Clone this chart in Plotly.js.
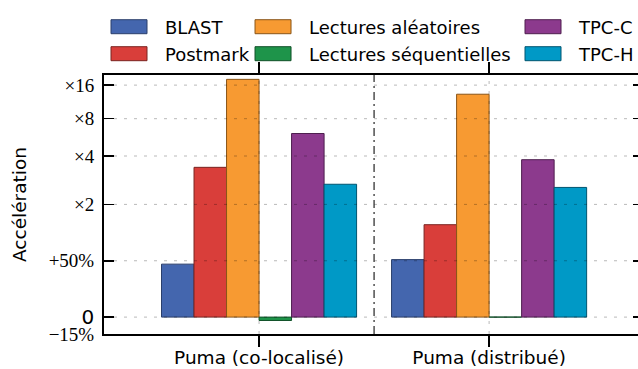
<!DOCTYPE html>
<html>
<head>
<meta charset="utf-8">
<script src="https://cdn.plot.ly/plotly-3.0.1.min.js"></script>
<style>
html,body{margin:0;padding:0;overflow:hidden;background:#fff;}
#chart{width:645px;height:369px;}
#chart .legendpoints path{d:path('M18,7H-18V-7H18Z');}
</style>
</head>
<body>
<div id="chart"></div>
<script>
// ---- data ----
const categories = ['Puma (co-localisé)', 'Puma (distribué)'];
const seriesNames = ['BLAST', 'Postmark', 'Lectures aléatoires', 'Lectures séquentielles', 'TPC-C', 'TPC-H'];
const blast = [1.47, 1.51];
const postmark = [3.32, 1.82];
const lecturesAleatoires = [18.1, 13.2];
const lecturesSequentielles = [0.97, 1.0];
const tpcc = [6.0, 3.76];
const tpch = [2.58, 2.47];
const tickValues = [0.85, 1, 1.5, 2, 4, 8, 16];
const tickLabels = ['\u221215%', '<span style="font-family:DejaVu Sans;font-size:20px">0</span>', '+50%', '\u00d72', '\u00d74', '\u00d78', '\u00d716'];

// ---- styling ----
const fillColors = ['#4466ae', '#d93e3a', '#f79a32', '#1e944a', '#8c3a8d', '#0099c6'];
const edgeColors = ['#2b3f6b', '#7a2420', '#8a5518', '#105028', '#4e1f4f', '#005570'];
const swatchColors = ['#3366cc', '#dc3912', '#ff9900', '#109618', '#990099', '#0099c6'];
const legendIds = ['legend', 'legend2', 'legend3', 'legend4', 'legend5', 'legend6'];
const legendX = [-0.0204, -0.0204, 0.2468, 0.2468, 0.7477, 0.7477];
const legendY = [1.1853, 1.0811, 1.1853, 1.0811, 1.1853, 1.0811];

// symmetric-log (linthresh 1, base 10) transform of the speed-up factor
function symlog(v) {
  const s = v - 1, a = Math.abs(s), L = 1 / (1 - 1 / 10);
  return a <= 1 ? s * L : Math.sign(s) * (L + Math.log10(a));
}

const allSeries = [blast, postmark, lecturesAleatoires, lecturesSequentielles, tpcc, tpch];
const traces = allSeries.map((vals, i) => ({
  type: 'bar',
  name: seriesNames[i],
  x: categories,
  y: vals.map(symlog),
  customdata: vals,
  marker: {color: fillColors[i], line: {color: edgeColors[i], width: 1}},
  legend: legendIds[i],
  hovertemplate: '%{customdata}<extra>' + seriesNames[i] + '</extra>'
}));

const yMin = symlog(0.85);
const yMax = 2.387;

const shapes = [];
tickValues.slice(1).forEach(v => {
  shapes.push({type: 'line', xref: 'paper', x0: 0, x1: 1, yref: 'y', y0: symlog(v), y1: symlog(v),
    line: {color: 'rgba(0,0,0,0.28)', width: 1, dash: '3px,7px'}, layer: 'above'});
});
categories.forEach(c => {
  shapes.push({type: 'line', xref: 'x', x0: c, x1: c, yref: 'paper', y0: 0, y1: 1,
    line: {color: 'rgba(0,0,0,0.28)', width: 1, dash: '3px,7px'}, layer: 'above'});
});
shapes.push({type: 'line', xref: 'x', x0: 0.5, x1: 0.5, yref: 'paper', y0: 0, y1: 1,
  line: {color: '#333', width: 1.3, dash: '8px,4px,2px,4px'}, layer: 'above'});

const legendFont = {family: 'DejaVu Sans', size: 18, color: '#000'};
const layout = {
  width: 645, height: 369,
  margin: {l: 104, r: 2, t: 75, b: 35},
  paper_bgcolor: '#fff', plot_bgcolor: '#fff',
  barmode: 'group', bargap: 0.152, bargroupgap: 0,
  showlegend: true,
  xaxis: {
    type: 'category', range: [-0.674, 1.669],
    showline: true, linecolor: '#000', linewidth: 2, mirror: 'ticks',
    ticks: 'outside', ticklen: 11, tickwidth: 1.5, tickcolor: '#000',
    showgrid: false, zeroline: false,
    ticklabelstandoff: -5,
    tickfont: {family: 'DejaVu Sans', size: 18.5, color: '#000'}
  },
  yaxis: {
    range: [yMin, yMax],
    tickmode: 'array', tickvals: tickValues.map(symlog), ticktext: tickLabels,
    showline: true, linecolor: '#000', linewidth: 2, mirror: 'ticks',
    ticks: 'inside', ticklen: 10, tickwidth: 1.5, tickcolor: '#000',
    showgrid: false, zeroline: false,
    ticklabelstandoff: 4,
    tickfont: {family: 'Liberation Serif', size: 19, color: '#000'},
    title: {text: 'Accélération', font: {family: 'DejaVu Sans', size: 18.5, color: '#000'}, standoff: 17}
  },
  shapes: shapes
};
legendIds.forEach((id, i) => {
  layout[id] = {orientation: 'v', xanchor: 'left', yanchor: 'middle', x: legendX[i], y: legendY[i],
    font: legendFont, itemwidth: 62, bgcolor: 'rgba(0,0,0,0)', borderwidth: 0,
    itemclick: false, itemdoubleclick: false};
});

function styleSwatches(gd) {
  gd.querySelectorAll('.legendpoints').forEach(pts => {
    const tr = pts.parentNode;
    const t = tr && tr.querySelector('.legendtext');
    const p = pts.querySelector('path');
    if (!t || !p) return;
    const idx = seriesNames.indexOf(t.textContent);
    p.setAttribute('d', 'M18,7H-18V-7H18Z');
    if (idx >= 0) {
      p.style.fill = swatchColors[idx];
      p.style.stroke = '#222';
      p.style.strokeWidth = '1px';
    }
  });
}

Plotly.newPlot('chart', traces, layout, {displayModeBar: false, staticPlot: true}).then(gd => {
  styleSwatches(gd);
  gd.on && gd.on('plotly_afterplot', () => styleSwatches(gd));
  setTimeout(() => styleSwatches(gd), 0);
  setTimeout(() => styleSwatches(gd), 100);
});
</script>
</body>
</html>
